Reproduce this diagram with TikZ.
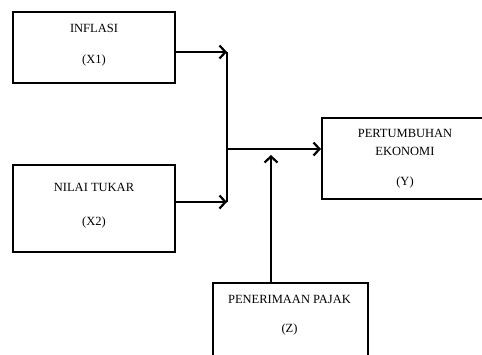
\documentclass[tikz,border=0pt]{standalone}
\usepackage{fontspec}
\setmainfont{Liberation Serif}
\usetikzlibrary{arrows.meta}
\begin{document}
\begin{tikzpicture}[x=1pt,y=-1pt,
  box/.style={draw,line width=2.4pt,inner sep=0pt},
  lbl/.style={font=\fontsize{12.5}{14}\selectfont,inner sep=0pt,anchor=center},
  conn/.style={line width=2.4pt},
  arr/.style={conn,-{Straight Barb[length=6pt,width=13pt,line width=2.2pt]}}]
\useasboundingbox (0,0) rectangle (482,354);
\clip (0,0) rectangle (482,354);
% boxes
\node[box,minimum width=162pt,minimum height=71pt] (x1) at (94,47.5) {};
\node[box,minimum width=162pt,minimum height=87pt] (x2) at (94,208.5) {};
\node[box,minimum width=170pt,minimum height=81pt,anchor=north west] (y) at (321,117) {};
\node[box,minimum width=155pt,minimum height=90pt,anchor=north west] (z) at (212,282) {};
% texts
\node[lbl] (t1a) at (94,28) {INFLASI};
\node[lbl] (t1b) at (94,60) {(X1)};
\node[lbl] (t2a) at (94,187) {NILAI TUKAR};
\node[lbl] (t2b) at (94,222) {(X2)};
\node[lbl] (tya) at (405,133) {PERTUMBUHAN};
\node[lbl] (tyb) at (405,151) {EKONOMI};
\node[lbl] (tyc) at (405,182) {(Y)};
\node[lbl] (tza) at (289.5,299) {PENERIMAAN PAJAK};
\node[lbl] (tzb) at (289.5,329) {(Z)};
% junction coordinates
\coordinate (j1) at (227,52);
\coordinate (j2) at (227,202);
\coordinate (jm) at (227,149);
\coordinate (zt) at (271,155);
% connectors
\draw[arr] (x1.east |- j1) -- (j1);
\draw[arr] (x2.east |- j2) -- (j2);
\draw[conn] (j1) -- (j2);
\draw[arr] (jm) -- (y.west |- jm);
\draw[arr] (z.north -| zt) -- (zt);
\end{tikzpicture}
\end{document}
